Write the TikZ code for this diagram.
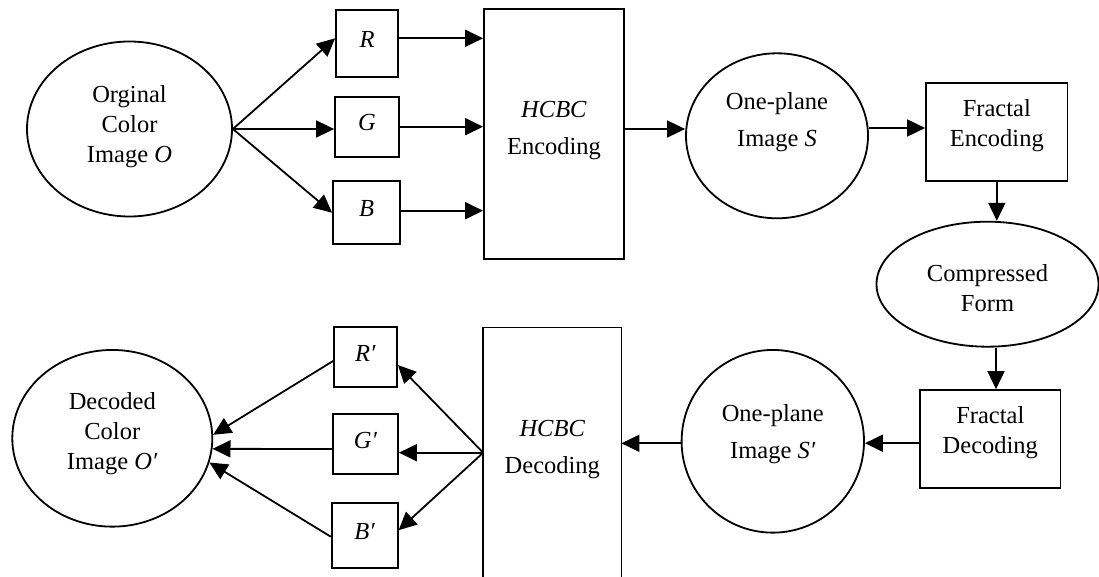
\documentclass[tikz,border=0pt]{standalone}
\usepackage{fontspec}
\setmainfont{Liberation Serif}
\usetikzlibrary{shapes.geometric,arrows.meta,calc}

\begin{document}
\begin{tikzpicture}[x=1pt,y=-1pt,
  line width=1.8pt,
  font=\fontsize{24.5}{30}\selectfont,
  arr/.style={-{Triangle[length=18pt,width=17pt]}},
  chbox/.style={draw,rectangle,inner sep=0pt,text height=16pt,text depth=8pt},
  blk/.style={draw,rectangle,inner sep=0pt},
  ell/.style={draw,ellipse,inner sep=0pt},
  tight/.style={font=\fontsize{24.5}{30}\selectfont,align=center},
  loose/.style={font=\fontsize{24.5}{36.7}\selectfont,align=center}
]
\useasboundingbox (0,0) rectangle (1099,577);

% ---- encoding path ----
\node[ell,minimum width=205pt,minimum height=175pt,
  label={[name=Otxt,tight,yshift=2pt]center:Orginal\\Color\\Image \textit{O}}] (O) at (129.5,129) {};

\node[chbox,minimum width=62pt,minimum height=66.7pt] (R) at (367,43.3) {\textit{R}};
\node[chbox,minimum width=64pt,minimum height=60pt]   (G) at (367,126.7) {\textit{G}};
\node[chbox,minimum width=67pt,minimum height=63.3pt] (B) at (366.5,212.7) {\textit{B}};

\node[blk,minimum width=140pt,minimum height=250pt,
  label={[name=enctxt,loose,yshift=3.5pt]center:\textit{HCBC}\\Encoding}] (enc) at (554,134) {};

\node[ell,minimum width=182pt,minimum height=165pt,
  label={[name=Stxt,loose,yshift=14pt]center:One-plane\\Image \textit{S}}] (S) at (777,135.8) {};

\node[blk,minimum width=141.5pt,minimum height=97.4pt,
  label={[name=fetxt,tight,yshift=6pt]center:Fractal\\Encoding}] (fe) at (996.8,132) {};

\node[ell,minimum width=222pt,minimum height=125pt,
  label={[name=comptxt,tight,yshift=-4pt]center:Compressed\\Form}] (comp) at (987.5,284.2) {};

% ---- decoding path ----
\node[blk,minimum width=140.5pt,minimum height=98.3pt,
  label={[name=fdtxt,tight,yshift=6.5pt]center:Fractal\\Decoding}] (fd) at (990.3,439.2) {};

\node[ell,minimum width=182.4pt,minimum height=182.7pt,
  label={[name=Sptxt,loose,yshift=7pt]center:One-plane\\Image \textit{S′}}] (Sp) at (772.8,441.3) {};

% decoding block runs off the lower edge, so its bottom side is not drawn
\node[rectangle,inner sep=0pt,minimum width=136.5pt,minimum height=248.7pt,
  label={[name=hdectxt,loose,yshift=3pt]center:\textit{HCBC}\\Decoding}] (hdec) at (552.3,452.7) {};
\draw (hdec.south west) -- (hdec.north west) -- (hdec.north east) -- (hdec.south east);

\node[chbox,minimum width=63pt,minimum height=60.7pt] (Rp) at (365.5,357) {\textit{R′}};
\node[chbox,minimum width=65pt,minimum height=60pt]   (Gp) at (365.5,444) {\textit{G′}};
\node[chbox,minimum width=66pt,minimum height=65pt]   (Bp) at (364.7,535.2) {\textit{B′}};

\node[ell,minimum width=200pt,minimum height=176.7pt,
  label={[name=Dtxt,tight,yshift=5pt]center:Decoded\\Color\\Image \textit{O′}}] (D) at (112.3,438.3) {};

% ---- connectors: encoding ----
\draw[arr] (O.east) -- ([yshift=5pt]R.west);
\draw[arr] (O.east) -- (O.east -| G.west);
\draw[arr] (O.east) -- (B.west);
\draw[arr] ([yshift=5pt]R.east) -- ([yshift=5pt]R.east -| enc.west);
\draw[arr] (G.east) -- (G.east -| enc.west);
\draw[arr] ([yshift=2pt]B.east) -- ([yshift=2pt]B.east -| enc.west);
\draw[arr] ([yshift=5pt]enc.east) -- ([yshift=5pt]enc.east -| S.west);
\draw[arr] ([yshift=4pt]fe.west -| S.east) -- ([yshift=4pt]fe.west);
\draw[arr] (fe.south) -- (fe.south |- comp.north);

% ---- connectors: decoding ----
\draw[arr] ([xshift=8.5pt]comp.south) -- ([xshift=8.5pt]comp.south |- fd.north);
\draw[arr] ([yshift=-4pt]fd.west) -- ([yshift=-4pt]fd.west -| Sp.east);
\draw[arr] ([yshift=-2pt]Sp.west) -- ([yshift=-2pt]Sp.west -| hdec.east);
\draw[arr] (hdec.west) -- ([yshift=-8pt]Rp.east);
\draw[arr] (hdec.west) -- (hdec.west -| Gp.east);
\draw[arr] (hdec.west) -- ([yshift=5pt]Bp.east);
\draw[arr] ([yshift=-4pt]Rp.west) -- (D.2.9);
\draw[arr] ([yshift=-5pt]Gp.west) -- (D.-6.1);
\draw[arr] ([yshift=-1.5pt]Bp.west) -- (D.-14.6);
\end{tikzpicture}
\end{document}
